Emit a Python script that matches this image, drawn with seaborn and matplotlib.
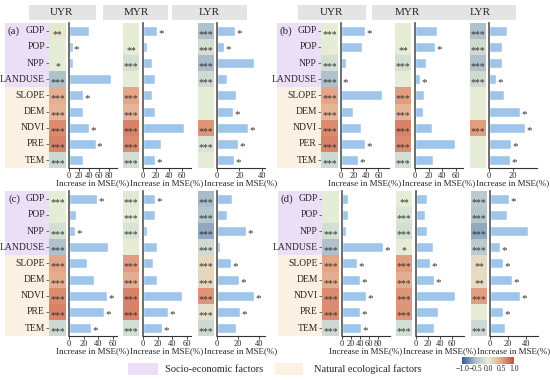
import numpy as np
import pandas as pd
import matplotlib
matplotlib.use("Agg")
import matplotlib.pyplot as plt
import seaborn as sns
from matplotlib.colors import LinearSegmentedColormap, Normalize
from matplotlib.cm import ScalarMappable
from matplotlib.patches import Rectangle

sns.set_theme(style="white")
plt.rcParams["font.family"] = ["Liberation Serif", "DejaVu Sans"]

# ---------------- data ----------------
factors = ["GDP", "POP", "NPP", "LANDUSE", "SLOPE", "DEM", "NDVI", "PRE", "TEM"]
factors_b = ["GDP", "POP", "NPP", "LANDUSE", "SLOPE", "DEM", "NDVI", "PER", "TEM"]
regions = ["UYR", "MYR", "LYR"]

# increase in MSE (%)
mse_a_uyr = [40, 7, 8, 84, 28, 28, 40, 53, 27]
mse_a_myr = [21, 6, 14, 19, 14, 19, 63, 28, 18]
mse_a_lyr = [16, 6, 33, 9, 17, 14, 28, 19, 15]
mse_b_uyr = [39, 34, 7.5, 0.5, 66, 19, 32, 38, 28]
mse_b_myr = [32, 29, 16, 8, 14, 12, 25, 59, 27]
mse_b_lyr = [15, 10.5, 10.5, 6, 12.5, 26, 30, 18, 17.5]
mse_c_uyr = [38, 10, 8, 54, 25, 34, 52, 47.5, 30]
mse_c_myr = [17, 16, 5, 19, 14, 19.5, 54, 34, 26.5]
mse_c_lyr = [14, 10, 27.5, 3, 13, 21.5, 35, 22.5, 18]
mse_d_uyr = [14, 14, 8, 90, 33, 40, 53, 39, 42]
mse_d_myr = [18, 15.5, 18, 29, 23, 30.5, 65, 37, 30.5]
mse_d_lyr = [21, 18.5, 42.5, 11, 14.5, 24.5, 33, 14, 16.5]

# bar significance (1 = "*")
bsig_a_uyr = [0, 1, 0, 0, 1, 0, 1, 1, 0]
bsig_a_myr = [1, 0, 0, 0, 0, 0, 0, 0, 1]
bsig_a_lyr = [1, 1, 0, 0, 0, 1, 1, 1, 1]
bsig_b_uyr = [1, 0, 0, 1, 0, 0, 0, 1, 1]
bsig_b_myr = [0, 1, 0, 1, 0, 0, 0, 0, 0]
bsig_b_lyr = [0, 0, 0, 1, 0, 1, 1, 1, 1]
bsig_c_uyr = [1, 0, 1, 0, 0, 0, 1, 1, 1]
bsig_c_myr = [1, 0, 0, 0, 0, 0, 0, 1, 1]
bsig_c_lyr = [0, 0, 1, 0, 1, 1, 1, 1, 0]
bsig_d_uyr = [0, 0, 0, 1, 1, 1, 1, 1, 1]
bsig_d_myr = [0, 0, 0, 0, 1, 1, 0, 0, 0]
bsig_d_lyr = [1, 0, 0, 1, 1, 1, 1, 1, 0]

# correlation coefficients (cell colour)
corr_a_uyr = [0.05, 0.0, 0.0, -0.45, 0.45, 0.4, 0.65, 0.7, -0.2]
corr_a_myr = [0.0, 0.0, -0.15, 0.0, 0.5, 0.4, 0.7, 0.65, -0.15]
corr_a_lyr = [-0.45, -0.15, -0.5, -0.2, 0.0, 0.0, 0.6, -0.1, 0.0]
corr_b_uyr = [0.0, 0.0, -0.15, -0.45, 0.5, 0.4, 0.65, 0.7, -0.2]
corr_b_myr = [0.0, 0.0, -0.15, 0.0, 0.55, 0.4, 0.7, 0.65, -0.15]
corr_b_lyr = [-0.45, -0.2, -0.45, -0.2, 0.02, 0.02, 0.55, 0.0, 0.0]
corr_c_uyr = [0.0, 0.0, -0.15, -0.45, 0.5, 0.45, 0.65, 0.7, -0.2]
corr_c_myr = [-0.05, 0.0, -0.1, 0.0, 0.55, 0.45, 0.7, 0.7, -0.15]
corr_c_lyr = [-0.5, -0.4, -0.6, -0.2, 0.15, 0.15, 0.6, 0.1, -0.2]
corr_d_uyr = [0.0, 0.0, -0.15, -0.45, 0.5, 0.45, 0.65, 0.65, -0.2]
corr_d_myr = [0.0, -0.1, -0.15, 0.0, 0.55, 0.45, 0.6, 0.6, -0.15]
corr_d_lyr = [-0.35, -0.4, -0.6, -0.35, 0.12, 0.12, 0.55, 0.0, -0.2]

# correlation significance
csig_a_uyr = ["**", "", "*", "***", "***", "***", "***", "***", "***"]
csig_a_myr = ["", "**", "***", "", "***", "***", "***", "***", "***"]
csig_a_lyr = ["***", "***", "***", "***", "", "", "***", "***", ""]
csig_b_uyr = ["***", "", "***", "***", "***", "***", "***", "***", "***"]
csig_b_myr = ["", "**", "***", "", "***", "***", "***", "***", "***"]
csig_b_lyr = ["***", "***", "***", "***", "", "", "***", "", ""]
csig_c_uyr = ["***", "", "***", "***", "***", "***", "***", "***", "***"]
csig_c_myr = ["***", "***", "***", "", "***", "***", "***", "***", "***"]
csig_c_lyr = ["***"] * 9
csig_d_uyr = ["", "", "***", "***", "***", "***", "***", "***", "***"]
csig_d_myr = ["**", "***", "***", "*", "***", "***", "***", "***", "***"]
csig_d_lyr = ["***", "***", "***", "***", "**", "**", "***", "", "***"]

tick_max_a = [80, 60, 40]
tick_max_b = [60, 60, 20]
tick_max_c = [60, 60, 40]
tick_max_d = [80, 60, 40]

# ---------------- styling / layout ----------------
W, H = 550, 380
PURPLE = "#ebdff8"
ORANGE = "#fdf1e4"
HEAD = "#e4e4e4"
BAR = "#9fc5ea"
STAR = "#333333"
cmap = LinearSegmentedColormap.from_list(
    "corr", ["#2f5b9c", "#a9bcc9", "#e6eed7", "#e6a688", "#c4503c"])

fig = plt.figure(figsize=(5.5, 3.8), dpi=100)


def add_ax(x0, y0, x1, y1):
    return fig.add_axes([x0 / W, 1 - y1 / H, (x1 - x0) / W, (y1 - y0) / H])


def rect(x0, y0, x1, y1, color):
    fig.add_artist(Rectangle((x0 / W, 1 - y1 / H), (x1 - x0) / W, (y1 - y0) / H,
                             transform=fig.transFigure, facecolor=color,
                             edgecolor="none", zorder=-1))


panels = [
    ("(a)", 5, 22.7, factors, [mse_a_uyr, mse_a_myr, mse_a_lyr],
     [corr_a_uyr, corr_a_myr, corr_a_lyr], [csig_a_uyr, csig_a_myr, csig_a_lyr],
     [bsig_a_uyr, bsig_a_myr, bsig_a_lyr], [96, 74, 43], tick_max_a),
    ("(b)", 277, 22.7, factors_b, [mse_b_uyr, mse_b_myr, mse_b_lyr],
     [corr_b_uyr, corr_b_myr, corr_b_lyr], [csig_b_uyr, csig_b_myr, csig_b_lyr],
     [bsig_b_uyr, bsig_b_myr, bsig_b_lyr], [77, 71, 40], tick_max_b),
    ("(c)", 5, 190.7, factors, [mse_c_uyr, mse_c_myr, mse_c_lyr],
     [corr_c_uyr, corr_c_myr, corr_c_lyr], [csig_c_uyr, csig_c_myr, csig_c_lyr],
     [bsig_c_uyr, bsig_c_myr, bsig_c_lyr], [66, 66, 46], tick_max_c),
    ("(d)", 278, 190.7, factors, [mse_d_uyr, mse_d_myr, mse_d_lyr],
     [corr_d_uyr, corr_d_myr, corr_d_lyr], [csig_d_uyr, csig_d_myr, csig_d_lyr],
     [bsig_d_uyr, bsig_d_myr, bsig_d_lyr], [106, 80, 53], tick_max_d),
]

hm_cols = [(44, 61), (118, 134), (193, 209)]
spines = [64, 138, 212]
BAR_W = 48
ROWS_H = 145.5

for tag, x0, yt, labels, mse, corr, csig, bsig, xmaxs, tmaxs in panels:
    yb = yt + ROWS_H
    rh = ROWS_H / 9
    rect(x0, yt, x0 + 44, yt + 4 * rh, PURPLE)
    rect(x0, yt + 4 * rh, x0 + 44, yb, ORANGE)
    fig.text((x0 + 9) / W, 1 - (yt + rh / 2) / H, tag, fontsize=7.8,
             ha="center", va="center")

    for j in range(3):
        hx0, hx1 = hm_cols[j]
        axh = add_ax(x0 + hx0, yt, x0 + hx1, yb)
        cdf = pd.DataFrame({regions[j]: corr[j]}, index=labels)
        annot = np.array(csig[j]).reshape(-1, 1)
        sns.heatmap(cdf, ax=axh, cmap=cmap, vmin=-1, vmax=1, cbar=False,
                    annot=annot, fmt="", xticklabels=False,
                    annot_kws=dict(fontsize=7, color=STAR))
        # asterisks sit high in the font, nudge them down to the row centre
        for t in axh.texts:
            t.set_y(t.get_position()[1] + 0.22)
        axh.set_ylabel("")
        if j == 0:
            axh.set_yticks(np.arange(9) + 0.5)
            axh.set_yticklabels(labels, rotation=0, fontsize=6.9)
            axh.tick_params(axis="y", left=True, length=2.2, width=0.6,
                            color="#555555", pad=0.8)
        else:
            axh.set_yticks([])

        axb = add_ax(x0 + spines[j], yt, x0 + spines[j] + BAR_W, yb)
        axb.patch.set_alpha(0)
        sns.barplot(x=mse[j], y=labels, ax=axb, color=BAR, orient="h",
                    width=0.62, saturation=1)
        axb.set_xlim(0, xmaxs[j])
        axb.set_ylim(8.5, -0.5)
        for i, (v, s) in enumerate(zip(mse[j], bsig[j])):
            if s:
                axb.text(v + xmaxs[j] * 0.03, i + 0.18, "*", fontsize=8,
                         color=STAR, ha="left", va="center")
        axb.set_xticks(range(0, tmaxs[j] + 1, 20))
        axb.tick_params(axis="x", bottom=True, labelsize=6, length=2,
                        width=0.6, pad=0.5)
        axb.set_yticks([])
        axb.set_ylabel("")
        axb.set_xlabel("Increase in MSE(%)", fontsize=6.5, labelpad=-0.5)
        sns.despine(ax=axb)
        axb.spines["left"].set_color("#555555")
        axb.spines["left"].set_linewidth(1.2)
        axb.spines["bottom"].set_color("#333333")
        axb.spines["bottom"].set_linewidth(0.8)

# region headers on the top row
for bx0, bx1 in [(29, 96), (103, 168), (172, 247), (298, 366), (372, 516)]:
    rect(bx0, 5, bx1, 20, HEAD)
for px, name in [(62, "UYR"), (136, "MYR"), (209, "LYR"),
                 (332, "UYR"), (407, "MYR"), (480, "LYR")]:
    fig.text(px / W, 1 - 12.5 / H, name, fontsize=8, ha="center", va="center")

# legend
rect(128, 363, 158, 375, PURPLE)
fig.text(165 / W, 1 - 369 / H, "Socio-economic factors", fontsize=7.5, va="center")
rect(275, 363, 303, 375, ORANGE)
fig.text(314 / W, 1 - 369 / H, "Natural ecological factors", fontsize=7.5, va="center")

cax = add_ax(462, 357, 514, 364)
cb = fig.colorbar(ScalarMappable(norm=Normalize(-1, 1), cmap=cmap), cax=cax,
                  orientation="horizontal", ticks=[-1, -0.5, 0, 0.5, 1])
cb.outline.set_visible(False)
cax.tick_params(labelsize=5.5, length=0, pad=1)

fig.savefig("out.png", dpi=100)
